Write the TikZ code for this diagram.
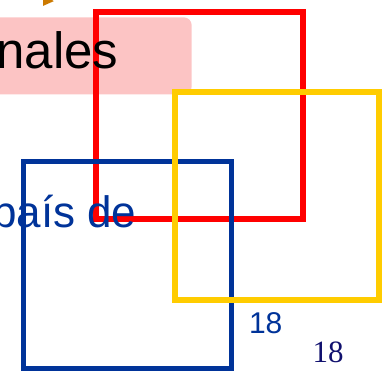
\documentclass[tikz,border=0pt]{standalone}
\usepackage{fontspec}
\setmainfont{Liberation Sans}
\newfontfamily\serifnum{Liberation Serif}
\usepackage{tikz}
\usetikzlibrary{arrows.meta}
\definecolor{flagred}{RGB}{255,0,0}
\definecolor{flagblue}{RGB}{0,51,153}
\definecolor{flagyellow}{RGB}{255,204,0}
\definecolor{boxpink}{RGB}{252,196,196}
\definecolor{tipbrown}{RGB}{204,122,0}
\definecolor{numnavy}{RGB}{16,16,110}

\begin{document}
\begin{tikzpicture}[
  x=1pt, y=-1pt,
  every node/.style={inner sep=0pt, outer sep=0pt},
  frame/.style={draw, line width=6pt, fill=none},
  redsq/.style={frame, draw=flagred, minimum width=207.5pt, minimum height=207pt},
  bluesq/.style={frame, draw=flagblue, line width=5.5pt, minimum width=208pt, minimum height=207.4pt},
  yellowsq/.style={frame, draw=flagyellow, minimum width=204pt, minimum height=208pt},
  pinkbox/.style={fill=boxpink, rounded corners=8pt, minimum width=201.7pt, minimum height=77pt},
  big/.style={font=\fontsize{51}{60}\selectfont, anchor=base east},
  mid/.style={font=\fontsize{44}{52}\selectfont, text=flagblue, anchor=base east},
  num/.style={font=\fontsize{30}{36}\selectfont, anchor=base west}
]
  \useasboundingbox (0,0) rectangle (382,374);

  \node[pinkbox] (titlebox) at (90.85,55.8) {};

  % the three squares, red under blue under yellow
  \node[redsq] (redframe) at (199.25,115.5) {};
  \node[bluesq] (blueframe) at (127.3,265) {};
  \node[yellowsq] (yellowframe) at (277,195.7) {};

  \node[big] (title) at (118.5,68.3) {nales};
  \node[mid] (country) at (136.5,227.8) {país de};

  \node[num, text=flagblue] (pagesans) at (249,333.3) {18};
  \node[num, text=numnavy, font=\serifnum\fontsize{31}{36}\selectfont] (pageserif) at (312.5,362.7) {18};

  \coordinate (arrowfrom) at (60,-20);
  \coordinate (arrowto) at (43,6);
  \draw[tipbrown, line width=3pt, -{Triangle[length=10pt, width=12pt]}] (arrowfrom) -- (arrowto);
\end{tikzpicture}
\end{document}
